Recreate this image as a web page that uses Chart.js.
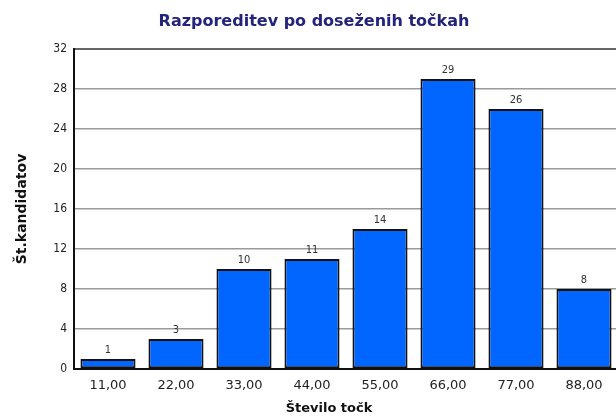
<!DOCTYPE html>
<html><head><meta charset="utf-8">
<script src="https://cdn.jsdelivr.net/npm/chart.js@4/dist/chart.umd.min.js"></script>
<style>
html,body{margin:0;padding:0;background:#fff;overflow:hidden;width:616px;height:419px;}
#wrap{width:618px;height:419px;position:relative;}
</style></head>
<body><div id="wrap"><canvas id="c" width="618" height="419"></canvas></div>
<script>
const chartTitle = "Razporeditev po doseženih točkah";
const xTitle = "Število točk";
const yTitle = "Št.kandidatov";
const categories = ["11,00","22,00","33,00","44,00","55,00","66,00","77,00","88,00"];
const counts = [1,3,10,11,14,29,26,8];

const textPlugin = {
  id: 'texts',
  afterDatasetsDraw(chart) {
    const ctx = chart.ctx;
    const meta = chart.getDatasetMeta(0);
    ctx.save();
    ctx.font = '11px "DejaVu Sans Condensed", "DejaVu Sans", sans-serif';
    ctx.fillStyle = '#333';
    ctx.textAlign = 'center';
    ctx.textBaseline = 'bottom';
    meta.data.forEach((bar, i) => {
      ctx.fillText(String(counts[i]), bar.x, bar.y - 3);
    });
    ctx.restore();
  },
  afterDraw(chart) {
    const ctx = chart.ctx;
    ctx.save();
    ctx.font = 'bold 16px "DejaVu Sans", sans-serif';
    ctx.fillStyle = '#24247a';
    ctx.textAlign = 'center';
    ctx.textBaseline = 'alphabetic';
    ctx.fillText(chartTitle, 314, 26);
    ctx.font = 'bold 13px "DejaVu Sans", sans-serif';
    ctx.fillStyle = '#111';
    ctx.textBaseline = 'middle';
    ctx.fillText(xTitle, 329, 409);
    ctx.font = 'bold 14px "DejaVu Sans", sans-serif';
    ctx.translate(22, 209);
    ctx.rotate(-Math.PI/2);
    ctx.fillText(yTitle, 0, 0);
    ctx.restore();
  }
};

new Chart(document.getElementById('c'), {
  type: 'bar',
  data: {
    labels: categories,
    datasets: [{
      data: counts,
      backgroundColor: '#0066FF',
      borderColor: '#111',
      borderWidth: 2,
      borderSkipped: false,
      categoryPercentage: 1,
      barPercentage: 0.81
    }]
  },
  options: {
    responsive: false,
    animation: false,
    events: [],
    layout: { padding: { top: 49, left: 0, right: 0, bottom: 0 } },
    plugins: { legend: { display: false }, title: { display: false }, tooltip: { enabled: false } },
    scales: {
      x: {
        grid: { display: true, color: 'rgba(0,0,0,0)', drawTicks: false },
        border: { display: true, color: '#111', width: 2 },
        ticks: { color: '#222', font: { size: 13, family: '"DejaVu Sans", sans-serif' }, padding: 9, maxRotation: 0 },
        afterFit(s) { s.height = 50; }
      },
      y: {
        min: 0, max: 32,
        grid: { color: (c) => c.tick && c.tick.value === 32 ? '#666' : '#9a9a9a', lineWidth: (c) => c.tick && c.tick.value === 32 ? 2 : 1.5, drawTicks: false },
        border: { display: true, color: '#111', width: 2 },
        ticks: { stepSize: 4, color: '#222', font: { size: 12, family: '"DejaVu Sans Condensed", "DejaVu Sans", sans-serif' }, padding: 7 },
        afterFit(s) { s.width = 74; }
      }
    }
  },
  plugins: [textPlugin]
});
</script>
</body></html>
